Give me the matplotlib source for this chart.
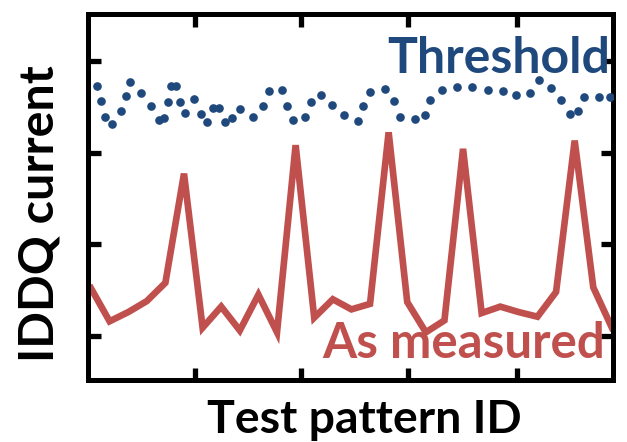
import matplotlib
matplotlib.use("Agg")
import matplotlib.pyplot as plt

# Red "As measured" series (pattern index, current)
measured = [1.52, 1.16, 1.26, 1.38, 1.58, 2.77, 1.09, 1.32, 1.06, 1.45, 1.04, 3.08,
            1.20, 1.40, 1.29, 1.35, 3.22, 1.37, 1.04, 1.17, 3.04, 1.25, 1.32, 1.26,
            1.21, 1.48, 3.13, 1.53, 1.09]
measured_x = list(range(len(measured)))

# Blue "Threshold" dotted series
threshold_x = [0.34, 0.54, 0.75, 1.15, 1.61, 1.87, 2.11, 2.70, 3.23, 3.66, 3.92, 4.12,
               4.30, 4.55, 4.78, 5.07, 5.56, 5.90, 6.22, 6.56, 6.90, 7.20, 7.58, 8.03,
               8.69, 9.25, 9.59, 10.25, 10.54, 10.86, 11.51, 11.81, 12.37, 12.96, 13.61,
               14.34, 14.62, 15.00, 15.81, 16.27, 16.60, 17.40, 17.94, 18.24, 18.85,
               19.69, 20.50, 21.34, 22.13, 22.85, 23.62, 24.10, 24.72, 25.27, 25.75,
               26.17, 26.52, 27.31, 27.90]
threshold = [3.73, 3.56, 3.39, 3.31, 3.45, 3.62, 3.77, 3.65, 3.51, 3.35, 3.38, 3.55,
             3.72, 3.72, 3.55, 3.43, 3.58, 3.42, 3.33, 3.49, 3.49, 3.33, 3.38, 3.47,
             3.39, 3.51, 3.67, 3.68, 3.51, 3.35, 3.39, 3.55, 3.63, 3.52, 3.41, 3.34,
             3.51, 3.66, 3.69, 3.56, 3.39, 3.37, 3.41, 3.57, 3.68, 3.71, 3.71, 3.68,
             3.67, 3.63, 3.65, 3.79, 3.70, 3.57, 3.42, 3.45, 3.60, 3.61, 3.61]

x_ticks = [5.6, 11.3, 17.05, 22.9]
y_ticks = [1, 2, 3, 4]

RED = "#C0504D"
BLUE = "#1F497D"
FONT = ["Lato", "DejaVu Sans"]

W, H = 627, 442
fig = plt.figure(figsize=(W / 100, H / 100), dpi=100)
ax = fig.add_axes([88 / W, (H - 380) / H, (613 - 88) / W, (380 - 14) / H])

ax.plot(measured_x, measured, color=RED, lw=4.8, solid_joinstyle="miter", zorder=2)
ax.plot(threshold_x, threshold, linestyle="none", marker="o", ms=5.2,
        color=BLUE, mec=BLUE, zorder=3)

ax.set_xlim(-0.16, 28.06)
ax.set_ylim(0.52, 4.51)
ax.set_xticks(x_ticks)
ax.set_yticks(y_ticks)
ax.set_xticklabels([])
ax.set_yticklabels([])
ax.tick_params(direction="in", length=9, width=3.8, top=True, right=True,
               color="black")
for s in ax.spines.values():
    s.set_linewidth(3.6)
    s.set_color("black")

fig.text(610 / W, (H - 73) / H, "Threshold", ha="right", va="baseline",
         color=BLUE, fontsize=36, fontweight="bold", family=FONT)
fig.text(605 / W, (H - 358) / H, "As measured", ha="right", va="baseline",
         color=RED, fontsize=35.5, fontweight="bold", family=FONT)

fig.text(364 / W, (H - 433) / H, "Test pattern ID", ha="center", va="baseline",
         fontsize=33.4, fontweight="bold", family=FONT, color="black")
fig.text(54 / W, (H - 214) / H, "IDDQ current", ha="center", va="baseline",
         rotation=90, rotation_mode="anchor", fontsize=34.8, fontweight="bold",
         family=FONT, color="black")

fig.savefig("out.png", dpi=100)
